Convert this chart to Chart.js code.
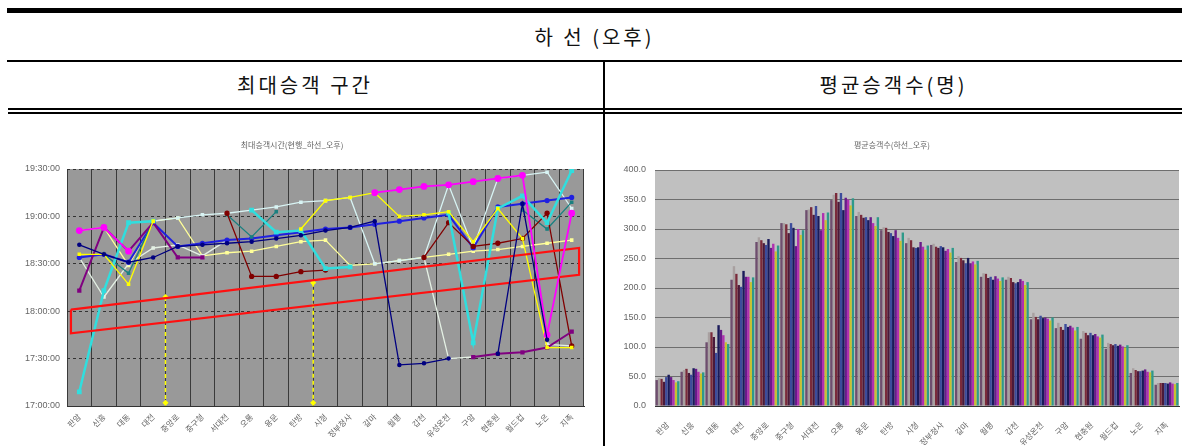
<!DOCTYPE html>
<html>
<head>
<meta charset="utf-8">
<script src="https://cdn.jsdelivr.net/npm/chart.js@4.4.0/dist/chart.umd.min.js"></script>
<style>
  body { margin: 0; width: 1182px; height: 446px; background: #fff; overflow: hidden; position: relative;
         font-family: "Noto Sans CJK KR", sans-serif; }
  .rule { position: absolute; background: #000; }
  .cap { position: absolute; text-align: center; color: #111; font-size: 20px; letter-spacing: 3px; }
  .box { position: absolute; }
</style>
</head>
<body>
<div class="rule" style="left:7px;top:8px;width:1175px;height:5px"></div>
<div class="cap" style="left:7px;top:13px;width:1175px;height:47px;line-height:47px">하 선 (오후)</div>
<div class="rule" style="left:7px;top:60px;width:1175px;height:2px"></div>
<div class="cap" style="left:7px;top:62px;width:596px;height:46px;line-height:46px">최대승객 구간</div>
<div class="cap" style="left:605px;top:62px;width:577px;height:46px;line-height:46px">평균승객수(명)</div>
<div class="rule" style="left:8px;top:108px;width:1174px;height:2px"></div>
<div class="rule" style="left:8px;top:112px;width:1174px;height:2px"></div>
<div class="rule" style="left:603px;top:61px;width:2px;height:385px"></div>

<div class="box" style="left:0;top:114px;width:603px;height:332px"><canvas id="peak-chart" width="603" height="332"></canvas></div>
<div class="box" style="left:605px;top:114px;width:577px;height:332px"><canvas id="avg-chart" width="577" height="332"></canvas></div>

<script>
// ---- data ----
const stations = ['판암', '신흥', '대동', '대전', '중앙로', '중구청', '서대전', '오룡', '용문', '탄방', '시청',
    '정부청사', '갈마', '월평', '갑천', '유성온천', '구암', '현충원', '월드컵', '노은', '지족'];

// peak-time per station, one list per line in the left chart (null = no point)
const navyTimes = ['18:42', '18:36', '18:31', '18:34', '18:41', '18:42', '18:43', '18:44', '18:46', '18:48', '18:51', '18:53', '18:57', '17:26', '17:27', '17:30', null, '17:33', '19:08', '17:42', null];
const magentaTimes = ['18:51', '18:53', '18:38', null, null, null, null, null, null, null, null, null, '19:15', '19:17', '19:19', '19:20', '19:22', '19:24', '19:26', '17:45', '19:02'];
const yellowTimes = ['18:36', '18:36', '18:17', '18:57', null, null, null, null, null, '18:52', '19:10', '19:12', '19:15', '19:00', '19:01', '19:03', '18:44', '19:05', '18:46', '17:37', '17:37'];
const cyanTimes = ['17:09', '18:13', '18:56', '18:57', null, null, null, '19:04', '18:50', '18:51', '18:27', '18:28', null, null, null, '19:02', '17:40', '19:05', '19:13', '18:56', '19:29'];
const purpleTimes = ['18:13', '18:53', '18:38', '18:56', '18:34', '18:34', null, null, null, null, null, null, null, null, null, null, '17:31', '17:33', '17:34', '17:37', '17:47'];
const darkRedTimes = [null, null, null, null, null, null, '19:02', '18:22', '18:22', '18:25', '18:26', null, null, null, '18:34', '18:56', '18:41', '18:43', '18:46', '19:02', '17:38'];
const tealTimes = [null, '18:36', '18:24', '18:57', null, null, '19:01', '18:47', '19:03', null, null, null, null, null, null, null, null, null, '19:04', '18:52', '19:09'];
const blueTimes = ['18:34', '18:36', '18:31', '18:56', '18:41', '18:43', '18:45', '18:46', '18:48', '18:50', '18:52', '18:53', '18:55', '18:57', '18:59', '19:01', '18:40', '19:06', '19:08', '19:10', '19:12'];
const paleBlueTimes = [null, null, null, '18:57', '18:59', '19:01', '19:02', '19:04', '19:06', '19:09', '19:10', '19:12', '18:30', '18:32', '18:34', '19:20', '18:40', '19:24', '19:26', '19:28', '19:05'];
const paleGreenTimes = ['18:34', '18:09', '18:30', '18:40', '18:42', '18:35', '18:45', null, null, null, null, null, null, null, '18:34', '17:30', '17:31', null, null, '17:39', '17:38'];
const paleYellowTimes = ['18:51', '18:53', '18:29', '18:57', '18:59', '18:35', '18:37', '18:38', '18:41', '18:44', '18:45', '18:29', '18:30', '18:32', '18:34', '18:36', '18:38', '18:39', '18:41', '18:43', '18:45'];

// red band drawn over the chart (x in station index units)
const bandX = [-0.34, 20.3, 20.3, -0.34, -0.34];
const bandTimes = ['18:01', '18:40', '18:23', '17:46', '18:01'];
// yellow dashed guide lines
const guideX = [3.5, 9.5];
const guideTop = ['18:09', '18:18'];
const guideBottom = '17:02';

// average passengers, one list per bar series in the right chart
const avg1 = [44, 58, 108, 214, 278, 310, 332, 349, 322, 298, 276, 273, 244, 219, 214, 147, 132, 114, 97, 56, 36];
const avg2 = [47, 61, 125, 237, 286, 310, 333, 358, 329, 303, 285, 275, 254, 225, 219, 158, 141, 127, 107, 64, 39];
const avg3 = [46, 63, 125, 224, 281, 308, 337, 361, 324, 302, 281, 270, 251, 224, 217, 151, 134, 124, 105, 61, 39];
const avg4 = [41, 56, 117, 205, 276, 293, 324, 346, 319, 295, 269, 268, 247, 217, 210, 147, 129, 120, 103, 59, 39];
const avg5 = [49, 53, 90, 202, 273, 310, 339, 361, 320, 293, 268, 271, 242, 219, 208, 153, 139, 124, 105, 59, 39];
const avg6 = [53, 64, 137, 229, 283, 302, 322, 332, 315, 288, 269, 269, 251, 214, 210, 149, 134, 120, 102, 60, 38];
const avg7 = [49, 63, 129, 219, 268, 271, 298, 353, 320, 298, 278, 263, 242, 220, 215, 150, 136, 122, 104, 62, 40];
const avg8 = [44, 58, 120, 219, 275, 300, 327, 350, 310, 285, 270, 266, 245, 216, 212, 148, 133, 118, 101, 58, 38];
const avg9 = [40, 55, 108, 210, 262, 290, 315, 340, 305, 280, 265, 260, 240, 212, 205, 145, 128, 116, 99, 57, 37];
const avg10 = [42, 57, 105, 218, 272, 298, 328, 352, 320, 294, 272, 268, 246, 218, 210, 150, 134, 121, 103, 60, 39];

// ---- helpers ----
const toMin = s => {
    if (s === null) return null;
    const [h, m] = s.split(':').map(Number);
    return h * 60 + m;
};
const fmtTime = v => `${Math.floor(v / 60)}:${String(v % 60).padStart(2, '0')}:00`;

const plotBg = {
    id: 'plotBg',
    beforeDraw(chart, args, opts) {
        const { ctx, chartArea: a } = chart;
        ctx.save();
        ctx.fillStyle = opts.color;
        ctx.fillRect(a.left, a.top, a.right - a.left, a.bottom - a.top);
        ctx.restore();
    }
};

const smallFont = { family: '"Liberation Sans", "Noto Sans CJK KR", sans-serif', size: 9 };
const krFont = { family: '"Noto Sans CJK KR", sans-serif', size: 8 };

function lineSet(data, color, opts = {}) {
    return Object.assign({
        data: data.map(toMin),
        borderColor: color,
        backgroundColor: color,
        borderWidth: 1.3,
        pointRadius: 1.6,
        pointStyle: 'rect',
        spanGaps: false,
        tension: 0
    }, opts);
}

// ---- left: peak time chart ----
const annotationSets = [
    {
        data: bandX.map((x, i) => ({ x, y: toMin(bandTimes[i]) })),
        xAxisID: 'xa', borderColor: '#ff1010', borderWidth: 2.2, pointRadius: 0, fill: false
    },
    ...guideX.map((x, i) => ({
        data: [{ x, y: toMin(guideTop[i]) }, { x, y: toMin(guideBottom) }],
        xAxisID: 'xa', borderColor: '#ffff00', borderWidth: 1.5, borderDash: [4, 3],
        pointRadius: 2, pointStyle: 'rectRot', backgroundColor: '#ffff00', borderCapStyle: 'butt'
    }))
];

new Chart(document.getElementById('peak-chart'), {
    type: 'line',
    data: {
        labels: stations,
        datasets: [
            lineSet(navyTimes, '#000080', { pointStyle: 'circle' }),
            lineSet(magentaTimes, '#ff00ff', { pointStyle: 'circle', pointRadius: 2.5, borderWidth: 1.8 }),
            ...annotationSets,
            lineSet(yellowTimes, '#ffff00'),
            lineSet(cyanTimes, '#30dede', { borderWidth: 2.5 }),
            lineSet(purpleTimes, '#800080', { borderWidth: 2 }),
            lineSet(darkRedTimes, '#800000', { pointStyle: 'circle', pointRadius: 2 }),
            lineSet(tealTimes, '#1a8080'),
            lineSet(blueTimes, '#2020e0', { borderWidth: 2, pointStyle: 'circle' }),
            lineSet(paleBlueTimes, '#d8f4f4'),
            lineSet(paleGreenTimes, '#e4f0e4'),
            lineSet(paleYellowTimes, '#ffff99')
        ]
    },
    options: {
        responsive: false, animation: false, devicePixelRatio: 1,
        layout: { padding: { left: 0, right: 19, top: 0, bottom: 0 } },
        plugins: {
            legend: { display: false }, tooltip: { enabled: false },
            title: {
                display: true, text: '최대승객시간(현행_하선_오후)', color: '#666',
                font: { family: '"Noto Sans CJK KR", sans-serif', size: 8, weight: 'normal' },
                padding: { top: 26, bottom: 19.4 }
            },
            plotBg: { color: '#999999' }
        },
        scales: {
            x: {
                type: 'category', offset: true,
                grid: { offset: true, color: '#3a3a3a', lineWidth: 1, drawTicks: false },
                border: { display: true, color: '#333' },
                ticks: { color: '#666', font: krFont, minRotation: 45, maxRotation: 45, autoSkip: false, padding: 6 },
                afterFit: s => { s.height = 40; }
            },
            xa: { type: 'linear', display: false, min: -0.5, max: 20.5 },
            y: {
                min: 1020, max: 1170,
                grid: { color: '#333', lineWidth: 1, drawTicks: false },
                border: { display: false, dash: [3, 3] },
                ticks: { stepSize: 30, color: '#666', font: smallFont, padding: 7, callback: v => fmtTime(v) },
                afterFit: s => { s.width = 67; }
            }
        }
    },
    plugins: [plotBg]
});

// ---- right: average passengers bar chart ----
const barColors = ['#6e4e6e', '#a8a0a0', '#7a2a3a', '#4a1a3a', '#3c4c9c', '#1a1a5a', '#6a1a8a', '#b030b0', '#c8c030', '#2e9a8a'];
const avgSeries = [avg1, avg2, avg3, avg4, avg5, avg6, avg7, avg8, avg9, avg10];

new Chart(document.getElementById('avg-chart'), {
    type: 'bar',
    data: {
        labels: stations,
        datasets: avgSeries.map((d, i) => ({
            data: d, backgroundColor: barColors[i], borderWidth: 0,
            barPercentage: 1.0, categoryPercentage: 0.96
        }))
    },
    options: {
        responsive: false, animation: false, devicePixelRatio: 1,
        layout: { padding: { left: 0, right: 3, top: 0, bottom: 0 } },
        plugins: {
            legend: { display: false }, tooltip: { enabled: false },
            title: {
                display: true, text: '평균승객수(하선_오후)', color: '#666',
                font: { family: '"Noto Sans CJK KR", sans-serif', size: 8, weight: 'normal' },
                padding: { top: 26, bottom: 20.4 }
            },
            plotBg: { color: '#c0c0c0' }
        },
        scales: {
            x: {
                grid: { display: false },
                border: { display: true, color: '#333' },
                ticks: { color: '#666', font: krFont, minRotation: 45, maxRotation: 45, autoSkip: false, padding: 6 },
                afterFit: s => { s.height = 40; }
            },
            y: {
                min: 0, max: 400,
                grid: { color: '#6e6e6e', lineWidth: 1, drawTicks: false },
                border: { display: false },
                ticks: { stepSize: 50, color: '#666', font: smallFont, padding: 9, callback: v => v.toFixed(1) },
                afterFit: s => { s.width = 50; }
            }
        }
    },
    plugins: [plotBg]
});
</script>
</body>
</html>
